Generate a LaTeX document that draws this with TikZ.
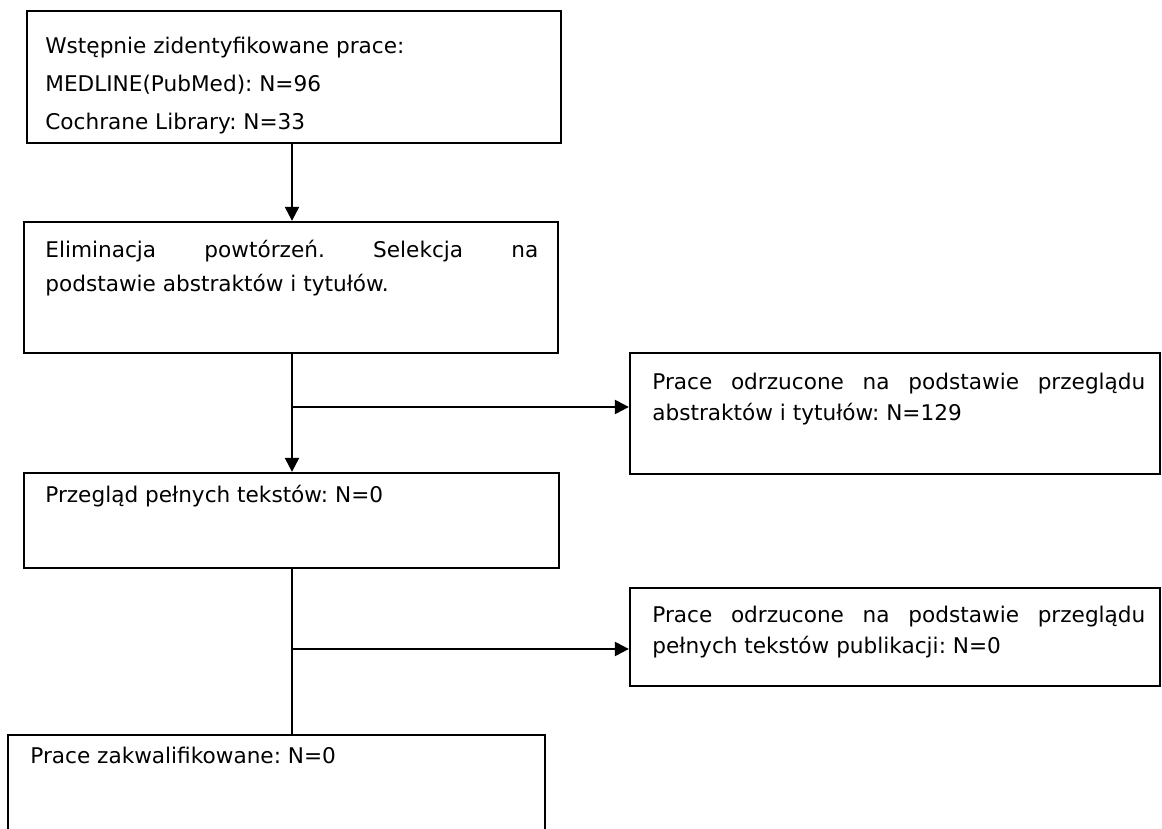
\documentclass[tikz,border=0pt]{standalone}
\usepackage{fontspec}
\setmainfont{DejaVu Sans}
\usetikzlibrary{arrows.meta,positioning,calc}
\frenchspacing
\tikzset{
  box/.style={draw, line width=1.3pt, rectangle, inner sep=0pt},
  txt/.style={anchor=base west, inner sep=0pt, text width=9.86cm, align=justify, font=\frenchspacing\fontsize{12.3}{18.8}\selectfont},
  arr/.style={line width=1.3pt, -{Triangle[length=8pt,width=8pt]}},
  lin/.style={line width=1.3pt}
}
\begin{document}
\begin{tikzpicture}
  \useasboundingbox (0,0) rectangle (23.24,16.58);

  % Stage 1: identification
  \node[box, minimum width=10.68cm, minimum height=2.64cm] (ident) at (5.88,15.04) {};
  \node[txt, font=\frenchspacing\fontsize{12.3}{21.6}\selectfont] (identtxt) at (0.9,15.5) {Wstępnie zidentyfikowane prace:\\MEDLINE(PubMed): N=96\\Cochrane Library: N=33};

  % Stage 2: screening
  \node[box, minimum width=10.68cm, minimum height=2.62cm] (elim) at (5.82,10.83) {};
  \node[txt] (elimtxt) at (0.9,11.42) {Eliminacja powtórzeń. Selekcja na\linebreak podstawie abstraktów i tytułów.};

  % Excluded after screening
  \node[box, minimum width=10.6cm, minimum height=2.42cm] (odrz1) at (17.9,8.31) {};
  \node[txt, font=\frenchspacing\fontsize{12.3}{17.6}\selectfont] (odrz1txt) at (13.04,8.78) {Prace odrzucone na podstawie przeglądu\linebreak abstraktów i tytułów: N=129};

  % Stage 3: full texts
  \node[box, minimum width=10.7cm, minimum height=1.9cm] (pelne) at (5.83,6.17) {};
  \node[txt] (pelnetxt) at (0.9,6.52) {Przegląd pełnych tekstów: N=0};

  % Excluded after full texts
  \node[box, minimum width=10.6cm, minimum height=1.96cm] (odrz2) at (17.9,3.84) {};
  \node[txt, font=\frenchspacing\fontsize{12.3}{17.6}\selectfont] (odrz2txt) at (13.04,4.12) {Prace odrzucone na podstawie przeglądu\linebreak pełnych tekstów publikacji: N=0};

  % Stage 4: included
  \node[box, minimum width=10.74cm, minimum height=2.3cm] (zakw) at (5.53,0.73) {};
  \node[txt] (zakwtxt) at (0.6,1.3) {Prace zakwalifikowane: N=0};

  % Connectors
  \coordinate (trunk) at (5.84,0);
  \coordinate (br1) at (5.84,8.44);
  \coordinate (br2) at (5.84,3.6);
  \draw[arr] (ident.south -| trunk) -- (elim.north -| trunk);
  \draw[arr] (elim.south -| trunk) -- (pelne.north -| trunk);
  \draw[arr] (br1) -- (br1 -| odrz1.west);
  \draw[lin] (pelne.south -| trunk) -- (zakw.north -| trunk);
  \draw[arr] (br2) -- (br2 -| odrz2.west);
\end{tikzpicture}
\end{document}
